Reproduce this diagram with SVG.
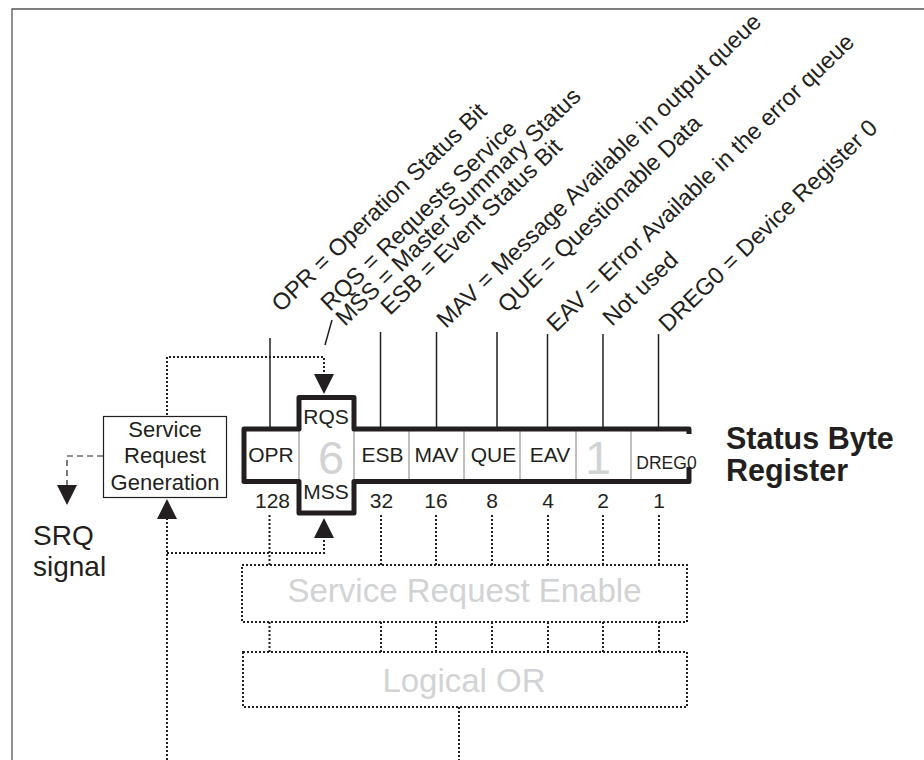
<svg xmlns="http://www.w3.org/2000/svg" width="924" height="760" viewBox="0 0 924 760">
<defs>
<style>
.t{font-family:"Liberation Sans",Arial,Helvetica,sans-serif;fill:#231f20}
.lab{font-size:23.5px}
.cell{font-size:21px;text-anchor:middle}
.num{font-size:21px;text-anchor:middle}
.big{font-size:47px;fill:#d1d3d4;text-anchor:middle}
.ghost{font-size:33px;fill:#d1d3d4;text-anchor:middle}
.srg{font-size:22px;text-anchor:middle}
.dot{fill:none;stroke:#231f20;stroke-width:2;stroke-dasharray:2 2}
.dash{fill:none;stroke:#231f20;stroke-width:1.2;stroke-dasharray:6 4}
.ln{fill:none;stroke:#231f20;stroke-width:1.5}
.thin{stroke:#808080;stroke-width:1}
.thick{fill:none;stroke:#231f20;stroke-width:5;stroke-linejoin:round}
.arrow{fill:#231f20}
</style>
<path id="ah" d="M-10,-20 L10,-20 L0,0 Z"/>
</defs>
<rect width="924" height="760" fill="#fff"/>
<path d="M12,760 V9 H924" fill="none" stroke="#555" stroke-width="1.3"/>

<g id="labels">
<text class="t lab" transform="translate(281,313) rotate(-44)">OPR = Operation Status Bit</text>
<text class="t lab" transform="translate(330,312) rotate(-44)">RQS = Requests Service</text>
<text class="t lab" transform="translate(345,327) rotate(-44)">MSS = Master Summary Status</text>
<text class="t lab" transform="translate(390,316) rotate(-44)">ESB = Event Status Bit</text>
<text class="t lab" transform="translate(446,329) rotate(-44)">MAV = Message Available in output queue</text>
<text class="t lab" transform="translate(507,314) rotate(-44)">QUE = Questionable Data</text>
<text class="t lab" transform="translate(556,333) rotate(-44)">EAV = Error Available in the error queue</text>
<text class="t lab" transform="translate(612,327) rotate(-44)">Not used</text>
<text class="t lab" transform="translate(668,333) rotate(-44)">DREG0 = Device Register 0</text>
</g>

<g id="connectors">
<line class="ln" x1="270" y1="338" x2="270" y2="427"/>
<line class="ln" x1="380.5" y1="332" x2="380.5" y2="427"/>
<line class="ln" x1="436.5" y1="332" x2="436.5" y2="427"/>
<line class="ln" x1="497" y1="332" x2="497" y2="427"/>
<line class="ln" x1="547.5" y1="334" x2="547.5" y2="427"/>
<line class="ln" x1="603" y1="334" x2="603" y2="427"/>
<line class="ln" x1="658.5" y1="334" x2="658.5" y2="427"/>
<line class="ln" x1="332" y1="320" x2="325" y2="345"/>
<path class="dot" d="M167,415 V357 H324 V374"/>
<use href="#ah" class="arrow" transform="translate(324,394)"/>
<path class="dot" d="M167,760 V519"/>
<use href="#ah" class="arrow" transform="translate(167,499) rotate(180)"/>
<path class="dot" d="M167,553 H324 V538"/>
<use href="#ah" class="arrow" transform="translate(324,518) rotate(180)"/>
<path class="dash" d="M103,456 H67 V486"/>
<use href="#ah" class="arrow" transform="translate(67,505)"/>
<path class="dot" d="M269.5,515 V565 M381,515 V565 M436,515 V565 M492,515 V565 M548,515 V565 M603,515 V565 M659,515 V565"/>
<path class="dot" d="M269.5,622 V652 M381,622 V652 M436,622 V652 M492,622 V652 M548,622 V652 M603,622 V652 M659,622 V652"/>
<path class="dot" d="M459,707 V760"/>
</g>

<g id="status-byte-register">
<path fill="#fff" d="M244,429 H299 V397.5 H354 V429 H689 V481.5 H354 V513 H299 V481.5 H244 Z"/>
<line class="thin" x1="299" y1="431" x2="299" y2="480"/>
<line class="thin" x1="354" y1="431" x2="354" y2="480"/>
<line class="thin" x1="409" y1="431" x2="409" y2="480"/>
<line class="thin" x1="464" y1="431" x2="464" y2="480"/>
<line class="thin" x1="520" y1="431" x2="520" y2="480"/>
<line class="thin" x1="576" y1="431" x2="576" y2="480"/>
<line class="thin" x1="631" y1="431" x2="631" y2="480"/>
<path class="thick" d="M689,434 V429 H354 V397.5 H299 V429 H244 V481.5 H299 V513 H354 V481.5 H689 V467"/>
<text class="t cell" x="271" y="462">OPR</text>
<text class="t cell" x="326" y="424">RQS</text>
<text class="t big" x="331" y="474">6</text>
<text class="t cell" x="326" y="499">MSS</text>
<text class="t cell" x="382.5" y="462">ESB</text>
<text class="t cell" x="436.5" y="462">MAV</text>
<text class="t cell" x="493.5" y="462">QUE</text>
<text class="t cell" x="550" y="462">EAV</text>
<text class="t big" x="598" y="474">1</text>
<text class="t" x="666.5" y="469" style="font-size:17.5px;text-anchor:middle">DREG0</text>
<text class="t num" x="272.5" y="508">128</text>
<text class="t num" x="381.5" y="508">32</text>
<text class="t num" x="436" y="508">16</text>
<text class="t num" x="492" y="508">8</text>
<text class="t num" x="548" y="508">4</text>
<text class="t num" x="603" y="508">2</text>
<text class="t num" x="659" y="508">1</text>
<text class="t" x="726" y="449" style="font-size:30.5px;font-weight:bold">Status Byte</text>
<text class="t" x="726" y="481" style="font-size:30.5px;font-weight:bold">Register</text>
</g>

<g id="service-request-generation">
<rect x="103.5" y="416.5" width="123" height="81" fill="#fff" stroke="#231f20" stroke-width="1.2"/>
<text class="t srg" x="165" y="437">Service</text>
<text class="t srg" x="165" y="463">Request</text>
<text class="t srg" x="165" y="490">Generation</text>
</g>

<g id="srq-signal">
<text class="t" x="33" y="545" style="font-size:28px">SRQ</text>
<text class="t" x="33" y="576" style="font-size:28px">signal</text>
</g>

<g id="service-request-enable">
<rect class="dot" x="242" y="565" width="445" height="57"/>
<text class="t ghost" x="464.5" y="602">Service Request Enable</text>
</g>

<g id="logical-or">
<rect class="dot" x="243" y="652" width="444" height="55"/>
<text class="t ghost" x="464" y="692">Logical OR</text>
</g>
</svg>
